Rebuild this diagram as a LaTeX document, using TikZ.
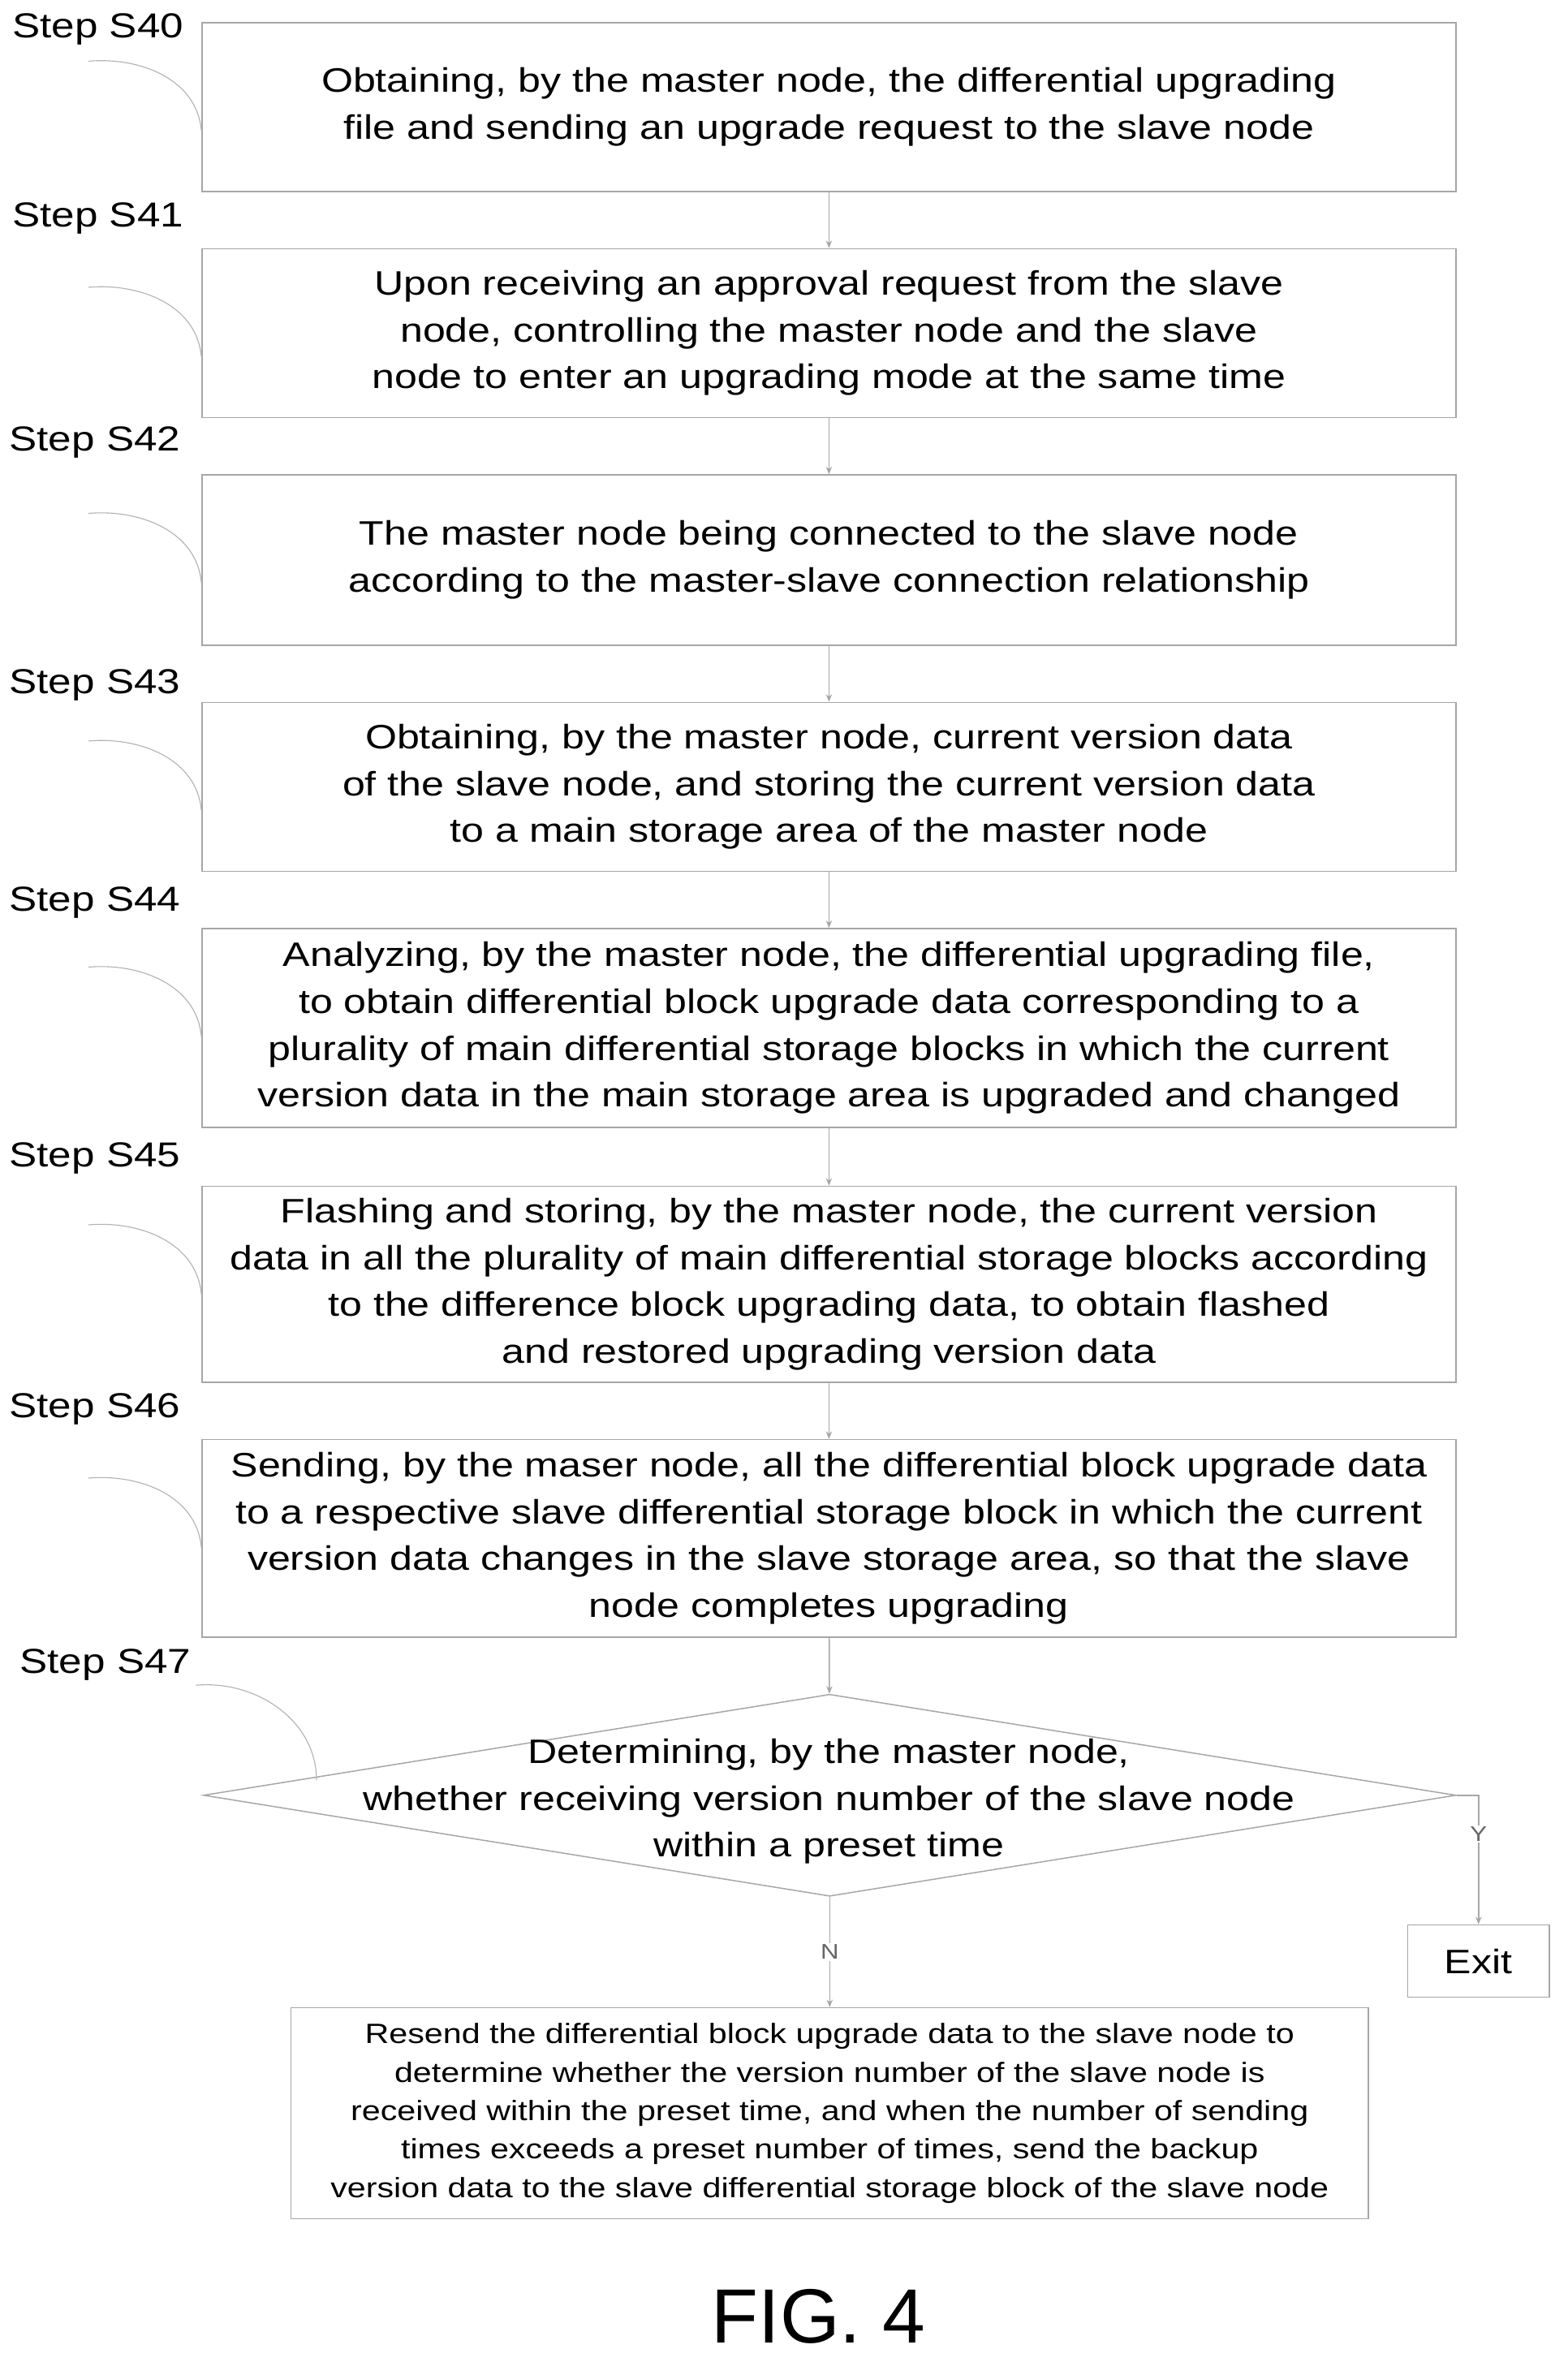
\documentclass[tikz,border=0pt]{standalone}
\usepackage{fontspec}
\setmainfont[FakeStretch=1.2]{Liberation Sans}
\newfontfamily\figfont{Liberation Sans}
\usetikzlibrary{shapes.geometric, positioning, arrows.meta}
\tikzstyle{stepbox}=[shape=rectangle, draw=gray!70, line width=0.8pt, minimum width=832pt, align=center, font=\fontsize{22.5}{31}\selectfont, inner sep=0pt]
\tikzstyle{steplabel}=[anchor=north west, inner sep=0pt, font=\fontsize{23}{28}\selectfont]
\tikzstyle{flow}=[draw=gray!70, line width=0.8pt, -{Stealth[length=5pt,width=4pt]}]
\tikzstyle{hook}=[draw=gray!60, line width=0.6pt]
\tikzstyle{yn}=[font=\fontsize{14}{14}\rmfamily\selectfont, fill=white, inner sep=1pt, text=gray!80!black]

\begin{document}
\begin{tikzpicture}[x=1pt,y=1pt]
\useasboundingbox (0,0) rectangle (1040,-1567);
\fill[white] (0,0) rectangle (1040,-1567);
% boxes
\node[stepbox, minimum height=112pt] (s40) at (550,-71) {Obtaining, by the master node, the differential upgrading\\file and sending an upgrade request to the slave node};
\node[stepbox, minimum height=112pt] (s41) at (550,-221) {Upon receiving an approval request from the slave\\node, controlling the master node and the slave\\node to enter an upgrading mode at the same time};
\node[stepbox, minimum height=113pt] (s42) at (550,-371.5) {The master node being connected to the slave node\\according to the master-slave connection relationship};
\node[stepbox, minimum height=112pt] (s43) at (550,-522) {Obtaining, by the master node, current version data\\of the slave node, and storing the current version data\\to a main storage area of the master node};
\node[stepbox, minimum height=132pt] (s44) at (550,-682) {Analyzing, by the master node, the differential upgrading file,\\to obtain differential block upgrade data corresponding to a\\plurality of main differential storage blocks in which the current\\version data in the main storage area is upgraded and changed};
\node[stepbox, minimum height=130pt] (s45) at (550,-852) {Flashing and storing, by the master node, the current version\\data in all the plurality of main differential storage blocks according\\to the difference block upgrading data, to obtain flashed\\and restored upgrading version data};
\node[stepbox, minimum height=131pt] (s46) at (550,-1020.5) {Sending, by the maser node, all the differential block upgrade data\\to a respective slave differential storage block in which the current\\version data changes in the slave storage area, so that the slave\\node completes upgrading};
\node[shape=diamond, draw=gray!70, line width=0.8pt, minimum width=831pt, minimum height=134pt, inner sep=0pt] (s47) at (550.5,-1191) {};
\node[align=center, font=\fontsize{22.5}{31}\selectfont] (s47txt) at (550,-1195) {Determining, by the master node,\\whether receiving version number of the slave node\\within a preset time};
\node[shape=rectangle, draw=gray!70, line width=0.8pt, minimum width=94pt, minimum height=48pt, font=\fontsize{22.5}{28}\selectfont] (exit) at (981,-1301) {Exit};
\node[shape=rectangle, draw=gray!70, line width=0.8pt, minimum width=715pt, minimum height=140pt, align=center, font=\fontsize{18.5}{25.5}\selectfont] (resend) at (550.5,-1402) {Resend the differential block upgrade data to the slave node to\\determine whether the version number of the slave node is\\received within the preset time, and when the number of sending\\times exceeds a preset number of times, send the backup\\version data to the slave differential storage block of the slave node};
\node[font=\figfont\fontsize{51}{51}\selectfont] (fig) at (543,-1537) {FIG. 4};
% step labels
\node[steplabel] (l40) at (8,-9) {Step S40};
\node[steplabel] (l41) at (8,-134) {Step S41};
\node[steplabel] (l42) at (6,-283) {Step S42};
\node[steplabel] (l43) at (6,-444) {Step S43};
\node[steplabel] (l44) at (6,-588) {Step S44};
\node[steplabel] (l45) at (6,-758) {Step S45};
\node[steplabel] (l46) at (6,-924) {Step S46};
\node[steplabel] (l47) at (13,-1094) {Step S47};
% hooks
\foreach \s in {40,...,46}{
\draw[hook] ([xshift=-75pt,yshift=-26pt]s\s.north west) to[out=5, in=95] ([yshift=-72pt]s\s.north west);
}
\draw[hook] (130,-1118) to[out=5, in=90] (210,-1181);
% arrows
\draw[flow] (s40) -- (s41);
\draw[flow] (s41) -- (s42);
\draw[flow] (s42) -- (s43);
\draw[flow] (s43) -- (s44);
\draw[flow] (s44) -- (s45);
\draw[flow] (s45) -- (s46);
\draw[flow] (s46) -- (s47);
\draw[flow] (s47.east) -| (exit.north) node[yn, pos=0.65] {Y};
\draw[flow] (s47.south) -- (resend.north) node[yn, midway] {N};
\end{tikzpicture}
\end{document}
